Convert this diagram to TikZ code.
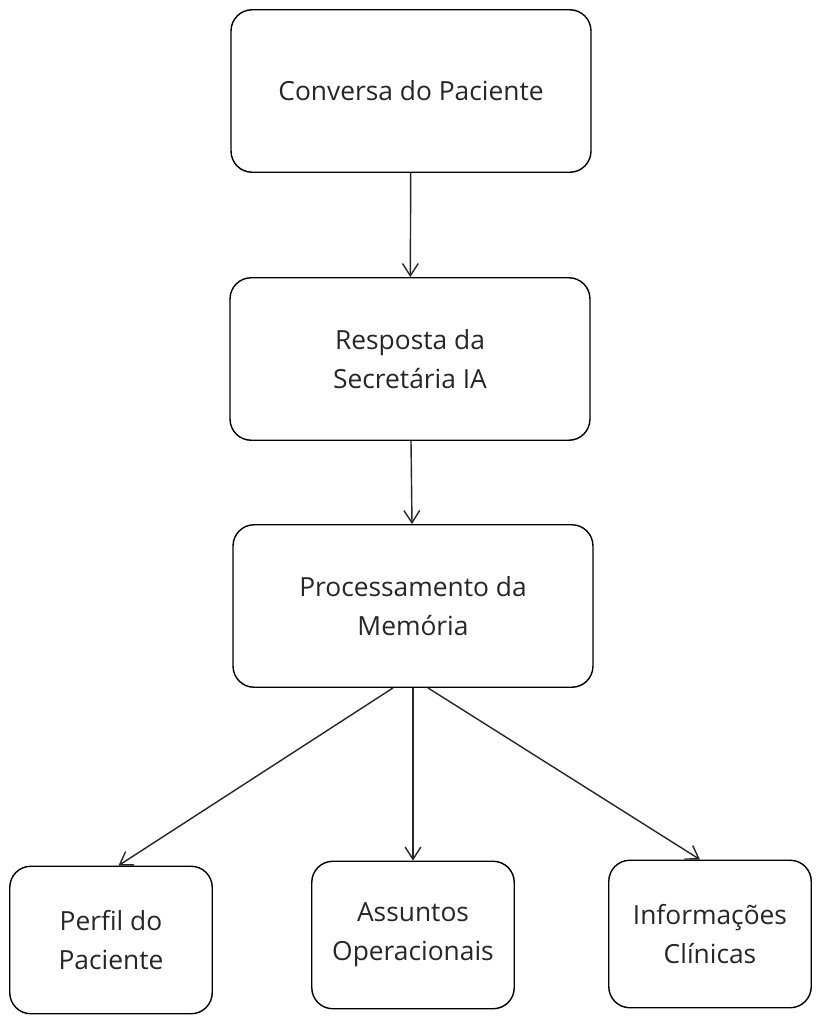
\documentclass[tikz,border=0pt]{standalone}
\usepackage{fontspec}
\setmainfont{Open Sans}
\usetikzlibrary{positioning,arrows,arrows.meta}

\begin{document}
\begin{tikzpicture}[x=0.02cm,y=-0.02cm]
			\tikzstyle{Box}		= [draw, thick, rounded corners=12pt, align=center, inner sep=0pt, font=\fontsize{15}{22}\selectfont, text=black!85]
			\tikzstyle{Big}		= [Box, minimum width=7.2cm, minimum height=3.25cm]
			\tikzstyle{Small}	= [Box, minimum width=4.05cm, minimum height=2.95cm]
			\tikzstyle{Link}	= [thick, -{Straight Barb[length=7pt,width=9pt]}, black!85]
			
			\useasboundingbox (0,0) rectangle (820,1024);
			
			\node (conversa) at (411, 91) [Big] {Conversa do Paciente};
			\node (resposta) at (410, 359) [Big] {Resposta da\\Secretária IA};
			\node (memoria) at (413, 606) [Big] {Processamento da\\Memória};
			\foreach \n/\x/\y/\t in {perfil/111/940/{Perfil do\\Paciente}, assuntos/413/935/{Assuntos\\Operacionais}, clinicas/710/934/{Informações\\Clínicas}}
				\node (\n) at (\x, \y) [Small] {\t};
			
			\draw [Link] (conversa) to (resposta);
			\draw [Link] (resposta) to (memoria);
			\draw [Link] ([xshift=-0.4cm]memoria.south) to ([xshift=0.15cm]perfil.north);
			\draw [Link] (memoria.south) to (assuntos.north);
			\draw [Link] ([xshift=0.3cm]memoria.south) to ([xshift=-0.2cm]clinicas.north);
		\end{tikzpicture}
\end{document}
